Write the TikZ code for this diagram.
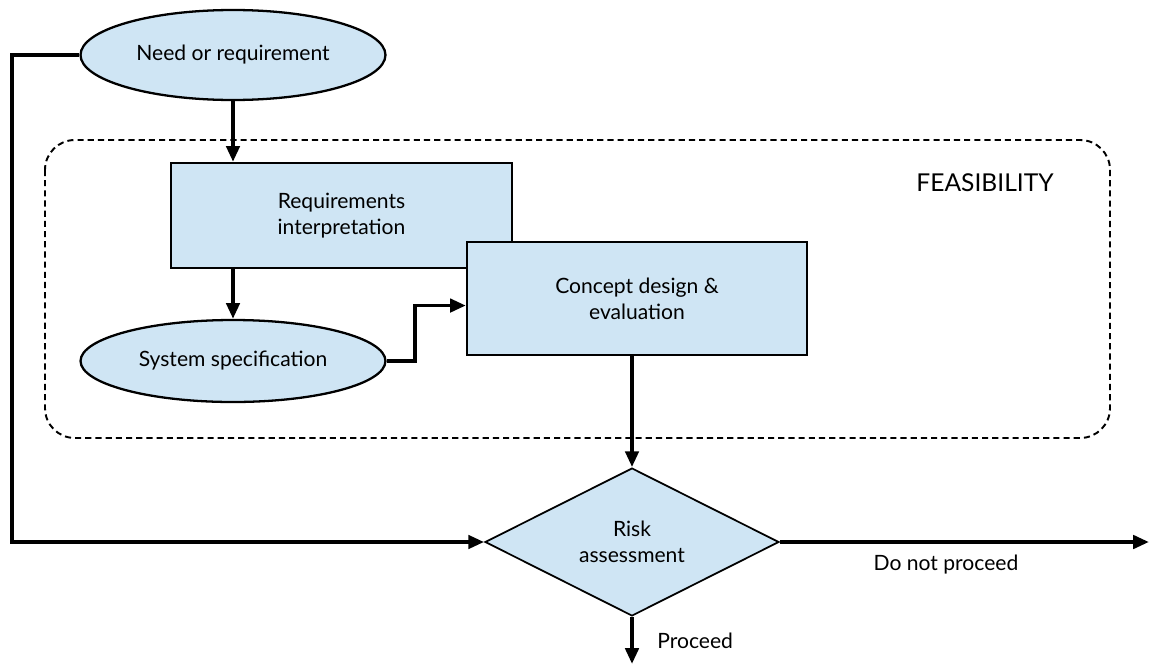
\documentclass[tikz,border=0pt]{standalone}
\usepackage{fontspec}
\setmainfont{Lato}
\usetikzlibrary{shapes.geometric,arrows.meta}

\definecolor{boxblue}{RGB}{207,229,244}

\tikzset{
	conn/.style={line width=2.2pt, -{Triangle[length=9pt,width=7.5pt]}},
	procbox/.style={draw, line width=1.3pt, fill=boxblue, align=center, inner sep=0pt},
	oval/.style={draw, ellipse, line width=1.3pt, fill=boxblue, align=center, inner sep=0pt},
	decision/.style={draw, diamond, line width=1pt, fill=boxblue, align=center, inner sep=0pt}
}

\begin{document}
\begin{tikzpicture}[x=0.02cm, y=-0.02cm, font=\fontsize{12}{15}\selectfont]
	\useasboundingbox (0,0) rectangle (1151,666);
	
	% feasibility region
	\draw[line width=1.1pt, dash pattern=on 3.5pt off 2.3pt, rounded corners=17pt] (45,140) rectangle (1110,438);
	\node[font=\fontsize{14}{16}\selectfont] (feas) at (985,183) {FEASIBILITY};
	
	\node[oval, minimum width=6.1cm, minimum height=1.8cm] (need) at (233,55) {Need or requirement};
	\node[procbox, minimum width=6.82cm, minimum height=2.1cm] (req) at (341.5,215.5) {Requirements\\interpretation};
	\node[procbox, minimum width=6.8cm, minimum height=2.26cm] (concept) at (637,298.5) {Concept design \&\\evaluation};
	\node[oval, minimum width=6.1cm, minimum height=1.64cm] (spec) at (233,361) {System specification};
	\node[decision, minimum width=5.88cm, minimum height=2.96cm] (risk) at (632,542) {Risk\\assessment};
	
	\coordinate (corner) at (12,55);
	\coordinate (stop) at (1149,542);
	\coordinate (out) at (632,664);
	
	\draw[conn] (need.south) -- (need.south |- req.north);
	\draw[conn] (spec.north |- req.south) -- (spec.north);
	\draw[conn] (spec.east) -- ++(28,0) |- ([yshift=-4pt]concept.west);
	\draw[conn] (risk.north |- concept.south) -- (risk.north);
	\draw[conn] (need.west) -- (corner) |- (risk.west);
	\draw[conn] (risk.east) -- (stop) node[pos=0.45, below=3pt] (nogo) {Do not proceed};
	\draw[conn] (risk.south) -- (out) node[midway, right=10pt] (go) {Proceed};
\end{tikzpicture}
\end{document}
